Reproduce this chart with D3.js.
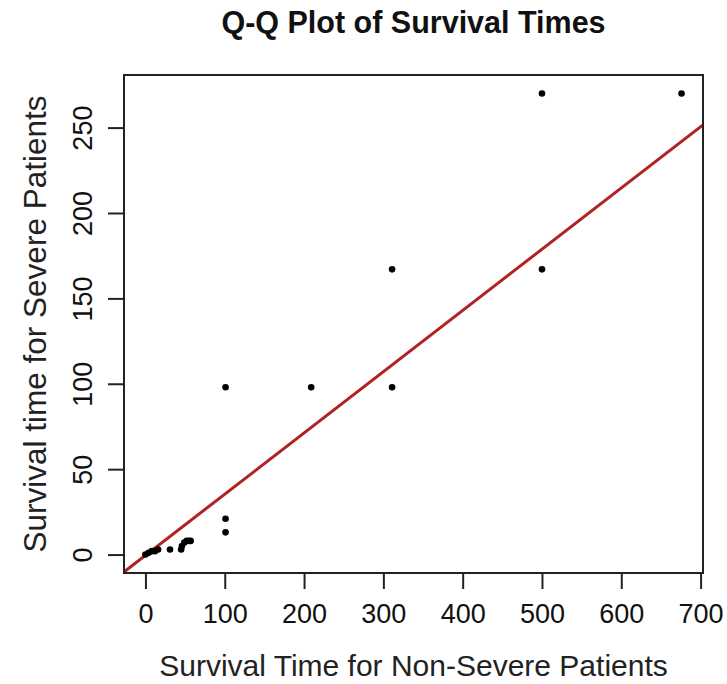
<!DOCTYPE html>
<html lang="en">
<head>
    <meta charset="UTF-8">
    <title>Q-Q Plot of Survival Times</title>
    <style>
        body {
            margin: 0;
            background-color: #fff;
        }
        svg {
            display: block;
            font-family: "Liberation Sans", Arial, sans-serif;
        }
        .frame {
            fill: none;
            stroke: #222;
            stroke-width: 2px;
        }
        .tick line {
            stroke: #222;
            stroke-width: 2px;
        }
    </style>
    <script src="https://d3js.org/d3.v7.min.js"></script>
</head>
<body>

<script>
    // sorted quantiles, paired by rank
    var nonSevere = [0, 4, 8, 12, 16, 31, 45, 46, 49, 52, 55, 57, 101, 101, 101, 209, 311, 311, 500, 500, 676];
    var severe    = [0, 1, 2, 2, 3, 3, 3, 5, 7, 8, 8, 8, 13, 21, 98, 98, 98, 167, 167, 270, 270];

    var xTicks = [0, 100, 200, 300, 400, 500, 600, 700];
    var yTicks = [0, 50, 100, 150, 200, 250];

    // reference line (intercept, slope)
    var lineCoef = [-0.5, 0.3586];

    var W = 727, H = 684;
    var box = {left: 124, right: 703, top: 75, bottom: 573};

    var svg = d3.select("body")
        .append("svg")
        .attr("width", W)
        .attr("height", H);

    svg.append("rect").attr("width", W).attr("height", H).attr("fill", "#fff");

    // R style 4% padding around the data range
    function pad(ext) {
        var d = (ext[1] - ext[0]) * 0.04;
        return [ext[0] - d, ext[1] + d];
    }

    var x = d3.scaleLinear()
        .domain(pad(d3.extent(nonSevere)))
        .range([box.left, box.right]);

    var y = d3.scaleLinear()
        .domain(pad(d3.extent(severe)))
        .range([box.bottom, box.top]);

    svg.append("defs").append("clipPath")
        .attr("id", "clip")
        .append("rect")
        .attr("x", box.left)
        .attr("y", box.top)
        .attr("width", box.right - box.left)
        .attr("height", box.bottom - box.top);

    // axes
    var xAxis = svg.append("g")
        .attr("transform", "translate(0," + box.bottom + ")")
        .call(d3.axisBottom(x).tickValues(xTicks).tickSize(16).tickPadding(8));

    var yAxis = svg.append("g")
        .attr("transform", "translate(" + box.left + ",0)")
        .call(d3.axisLeft(y).tickValues(yTicks).tickSize(16).tickPadding(8));

    [xAxis, yAxis].forEach(function (g) {
        g.select(".domain").remove();
        g.selectAll(".tick text")
            .attr("fill", "#111")
            .style("font-size", "27px");
    });

    xAxis.selectAll(".tick text").attr("dy", "0.95em");

    // rotated y tick labels, as in R
    yAxis.selectAll(".tick text")
        .attr("text-anchor", "middle")
        .attr("x", null)
        .attr("dy", null)
        .attr("transform", "translate(-32,0) rotate(-90)");

    // fitted line
    var xd = x.domain();
    svg.append("line")
        .attr("clip-path", "url(#clip)")
        .attr("x1", x(xd[0]))
        .attr("y1", y(lineCoef[0] + lineCoef[1] * xd[0]))
        .attr("x2", x(xd[1]))
        .attr("y2", y(lineCoef[0] + lineCoef[1] * xd[1]))
        .attr("stroke", "#B22222")
        .attr("stroke-width", 3);

    // points
    svg.append("g").selectAll("circle")
        .data(nonSevere)
        .enter()
        .append("circle")
        .attr("cx", function (d) { return x(d); })
        .attr("cy", function (d, i) { return y(severe[i]); })
        .attr("r", 3.3)
        .attr("fill", "#000");

    svg.append("rect")
        .attr("class", "frame")
        .attr("x", box.left)
        .attr("y", box.top)
        .attr("width", box.right - box.left)
        .attr("height", box.bottom - box.top);

    // titles
    svg.append("text")
        .attr("x", (box.left + box.right) / 2)
        .attr("y", 33)
        .attr("text-anchor", "middle")
        .style("font-size", "30.5px")
        .style("font-weight", "bold")
        .attr("fill", "#111")
        .text("Q-Q Plot of Survival Times");

    svg.append("text")
        .attr("x", (box.left + box.right) / 2)
        .attr("y", 676)
        .attr("text-anchor", "middle")
        .style("font-size", "30px")
        .attr("fill", "#222")
        .text("Survival Time for Non-Severe Patients");

    svg.append("text")
        .attr("transform", "translate(46," + (box.top + box.bottom) / 2 + ") rotate(-90)")
        .attr("text-anchor", "middle")
        .style("font-size", "31.5px")
        .attr("fill", "#222")
        .text("Survival time for Severe Patients");
</script>

</body>
</html>
